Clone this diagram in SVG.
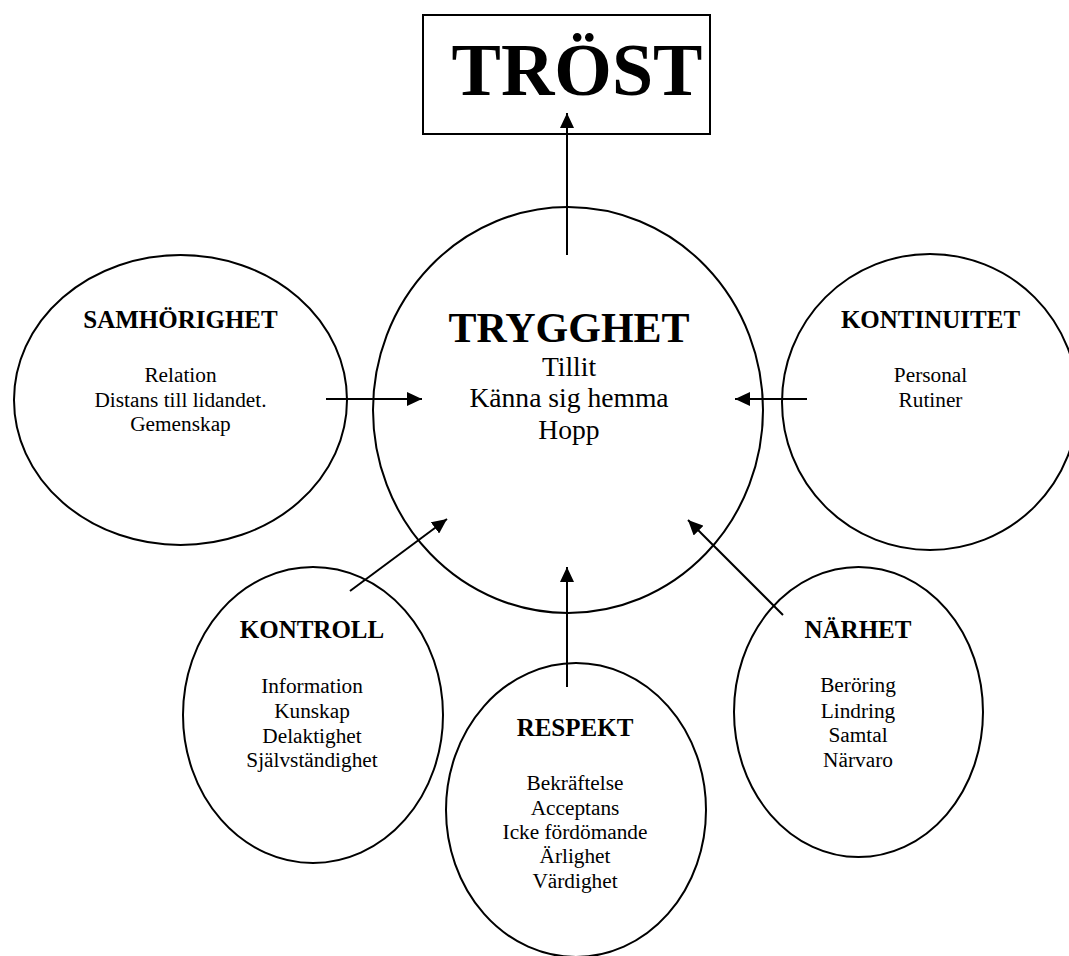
<svg xmlns="http://www.w3.org/2000/svg" width="1069" height="956" viewBox="0 0 1069 956">
<style>
.shape{fill:none;stroke:#000;stroke-width:2}
.line{fill:none;stroke:#000;stroke-width:2}
text{font-family:"Liberation Serif","Times New Roman",serif;fill:#000;text-anchor:middle}
.h{font-weight:bold;font-size:25px}
.b{font-size:21.3px}
.c{font-size:27.6px}
</style>
<defs>
<marker id="arr" viewBox="0 0 15 14" refX="15" refY="7" markerWidth="15" markerHeight="14" markerUnits="userSpaceOnUse" orient="auto">
<path d="M0,0 L15,7 L0,14 z" fill="#000"/>
</marker>
</defs>
<rect width="1069" height="956" fill="#fff"/>
<g id="trost">
<rect class="shape" x="423" y="15" width="287" height="119"/>
<text x="577" y="95" style="font-weight:bold;font-size:74px">TRÖST</text>
</g>
<g id="trygghet">
<ellipse class="shape" cx="568" cy="410" rx="195" ry="203"/>
<text x="569" y="342" style="font-weight:bold;font-size:42px">TRYGGHET</text>
<text class="c" x="569" y="376">Tillit</text>
<text class="c" x="569" y="407">Känna sig hemma</text>
<text class="c" x="569" y="439">Hopp</text>
</g>
<g id="samhorighet">
<ellipse class="shape" cx="180.5" cy="400" rx="166.5" ry="145"/>
<text class="h" x="180.5" y="328">SAMHÖRIGHET</text>
<text class="b" x="180.5" y="382">Relation</text>
<text class="b" x="180.5" y="407">Distans till lidandet.</text>
<text class="b" x="180.5" y="431">Gemenskap</text>
</g>
<g id="kontinuitet">
<ellipse class="shape" cx="930" cy="402" rx="148" ry="148"/>
<text class="h" x="930.5" y="328">KONTINUITET</text>
<text class="b" x="930.5" y="382">Personal</text>
<text class="b" x="930.5" y="407">Rutiner</text>
</g>
<g id="kontroll">
<ellipse class="shape" cx="313" cy="715" rx="130" ry="148"/>
<text class="h" x="312" y="638">KONTROLL</text>
<text class="b" x="312" y="693">Information</text>
<text class="b" x="312" y="718">Kunskap</text>
<text class="b" x="312" y="743">Delaktighet</text>
<text class="b" x="312" y="767">Självständighet</text>
</g>
<g id="respekt">
<ellipse class="shape" cx="576" cy="810" rx="130" ry="147"/>
<text class="h" x="575" y="736">RESPEKT</text>
<text class="b" x="575" y="790">Bekräftelse</text>
<text class="b" x="575" y="815">Acceptans</text>
<text class="b" x="575" y="839">Icke fördömande</text>
<text class="b" x="575" y="863">Ärlighet</text>
<text class="b" x="575" y="888">Värdighet</text>
</g>
<g id="narhet">
<ellipse class="shape" cx="858.5" cy="712" rx="124.5" ry="145"/>
<text class="h" x="858" y="638">NÄRHET</text>
<text class="b" x="858" y="692">Beröring</text>
<text class="b" x="858" y="718">Lindring</text>
<text class="b" x="858" y="742">Samtal</text>
<text class="b" x="858" y="767">Närvaro</text>
</g>
<g id="connectors">
<line class="line" x1="567" y1="255" x2="567" y2="113" marker-end="url(#arr)"/>
<line class="line" x1="326" y1="399" x2="422" y2="399" marker-end="url(#arr)"/>
<line class="line" x1="807" y1="399" x2="735" y2="399" marker-end="url(#arr)"/>
<line class="line" x1="350" y1="591" x2="447" y2="519" marker-end="url(#arr)"/>
<line class="line" x1="567" y1="687" x2="567" y2="567" marker-end="url(#arr)"/>
<line class="line" x1="783" y1="615" x2="688" y2="520" marker-end="url(#arr)"/>
</g>
</svg>
